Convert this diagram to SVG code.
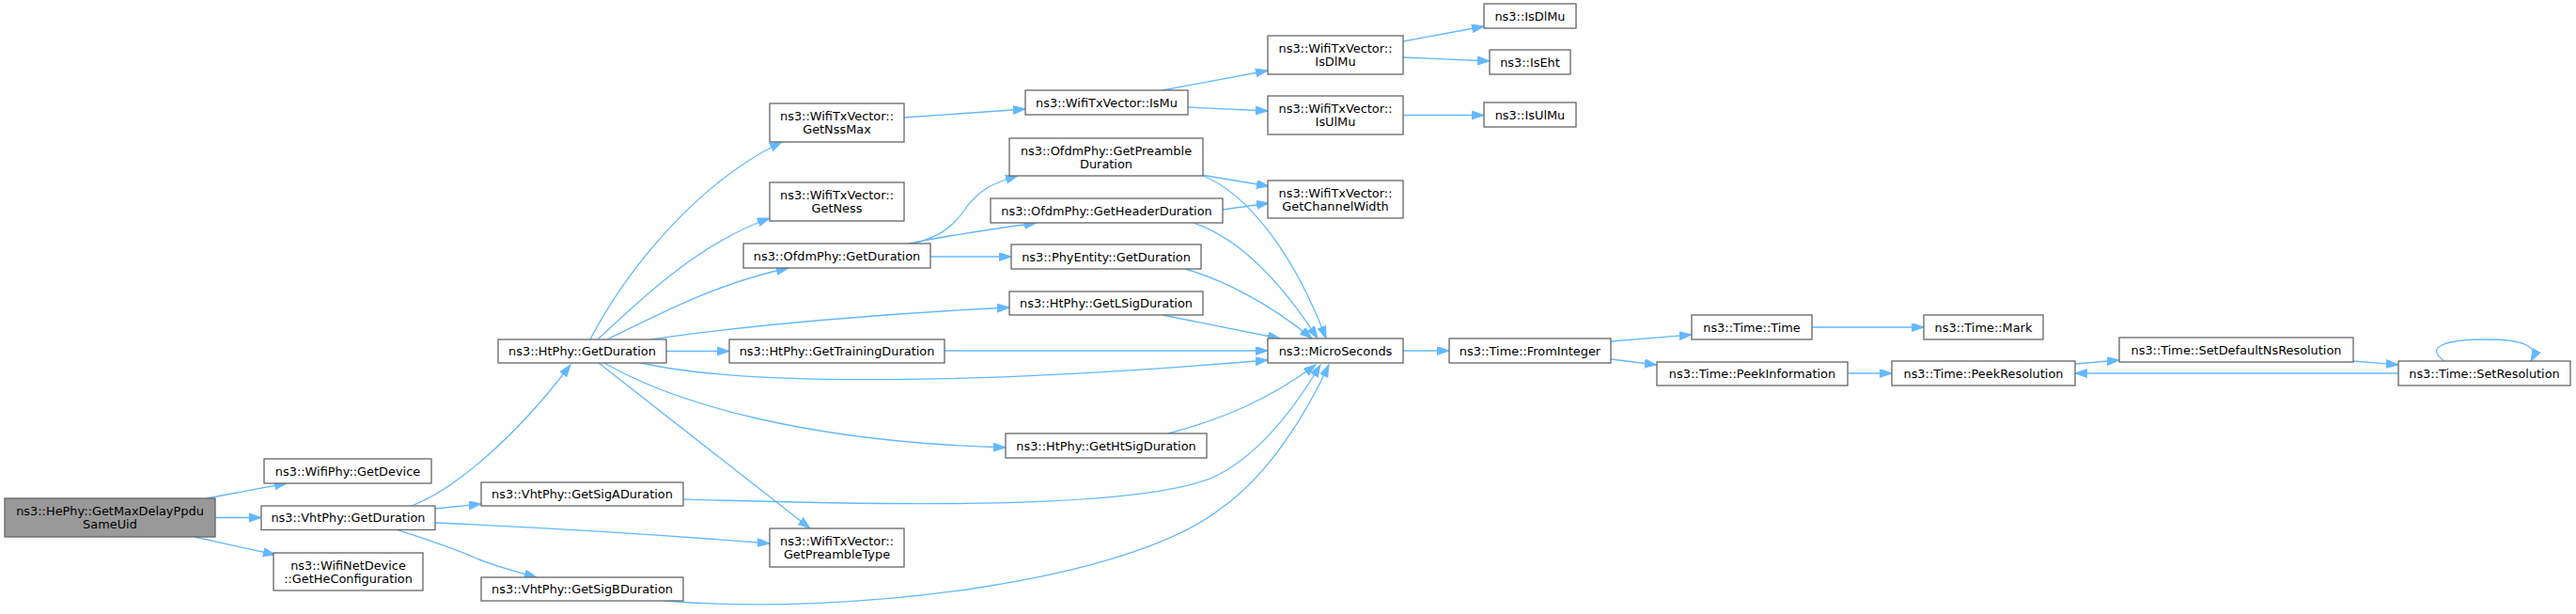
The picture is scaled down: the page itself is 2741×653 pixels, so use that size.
<svg xmlns="http://www.w3.org/2000/svg" width="2741" height="653" viewBox="0 0 2741 653">
<style>
.node rect{fill:#ffffff;stroke:#666666;stroke-width:1.3}
.node.root rect{fill:#999999}
.node text{font-family:"DejaVu Sans","Liberation Sans",sans-serif;font-size:12.9px;fill:#000000;text-anchor:middle}
.edges path{fill:none;stroke:#63b8ff;stroke-width:1.3;marker-end:url(#arr)}
</style>
<defs>
<marker id="arr" markerUnits="userSpaceOnUse" markerWidth="14" markerHeight="10" refX="13" refY="4.5" orient="auto" viewBox="0 0 14 10">
<path d="M0,0 L13,4.5 L0,9 Z" fill="#63b8ff" stroke="#63b8ff" stroke-width="1"/>
</marker>
</defs>
<rect x="0" y="0" width="2741" height="653" fill="#ffffff"/>
<g class="edges" id="edges">
<path d="M220,530 L305,514"/>
<path d="M229,550.5 L278,550.5"/>
<path d="M207,571 L293,590"/>
<path d="M438,538 C480,522 545,470 607,388"/>
<path d="M463,541 L512,536"/>
<path d="M463,556 C600,562 720,570 819,578"/>
<path d="M421,563 C455,574 480,582 505,593 C525,602 550,608 571,614"/>
<path d="M628,361 C665,290 740,195 832,151"/>
<path d="M636,361 C675,325 740,260 819,232"/>
<path d="M646,361 C700,335 760,302 839,285"/>
<path d="M693,361 C800,345 950,333 1074,327"/>
<path d="M709,373.5 L776,373.5"/>
<path d="M682,386 C800,412 1050,408 1349,383"/>
<path d="M643,386 C720,430 860,470 1070,476"/>
<path d="M637,386 L862,562"/>
<path d="M727,531 C900,536 1200,545 1290,508 C1340,485 1380,430 1405,388"/>
<path d="M707,639 C900,655 1200,620 1300,540 C1350,505 1390,440 1414,388"/>
<path d="M973,259 C1000,251 1013,242 1025,225 C1040,203 1055,195 1083,187"/>
<path d="M967,259 C1010,250 1060,243 1103,237"/>
<path d="M990,273 L1076,273"/>
<path d="M962,125 L1091,116"/>
<path d="M1237,96 L1349,75"/>
<path d="M1264,114 L1349,118"/>
<path d="M1493,44 L1579,28"/>
<path d="M1493,61 L1585,65"/>
<path d="M1493,122.5 L1579,122.5"/>
<path d="M1278,186 L1350,198"/>
<path d="M1280,187 C1325,205 1375,265 1411,360"/>
<path d="M1301,223 L1350,216"/>
<path d="M1270,237 C1315,252 1360,295 1402,360"/>
<path d="M1261,286 C1300,297 1350,322 1396,360"/>
<path d="M1237,335 L1362,360"/>
<path d="M1005,373 L1349,373"/>
<path d="M1243,461 C1300,446 1350,425 1400,388"/>
<path d="M1493,373 L1542,373"/>
<path d="M1714,363 L1800,356"/>
<path d="M1714,382 L1763,388"/>
<path d="M1928,348 L2047,348"/>
<path d="M1966,397 L2013,397"/>
<path d="M2208,387 L2255,383"/>
<path d="M2504,384 L2552,388"/>
<path d="M2552,397 L2208,397"/>
<path d="M2601,384 C2578,368 2605,361 2645,361 C2685,361 2702,368 2693,384"/>
</g>
<g class="node root" id="n_root"><rect x="5" y="530" width="224" height="41"/><text x="117" y="548">ns3::HePhy::GetMaxDelayPpdu</text><text x="117" y="562">SameUid</text></g>
<g class="node" id="n_getdevice"><rect x="281" y="488" width="178" height="26"/><text x="370" y="505.5">ns3::WifiPhy::GetDevice</text></g>
<g class="node" id="n_vhtdur"><rect x="278" y="538" width="185" height="25.5"/><text x="370.5" y="555">ns3::VhtPhy::GetDuration</text></g>
<g class="node" id="n_heconf"><rect x="291" y="588" width="159" height="40"/><text x="370.5" y="605.5">ns3::WifiNetDevice</text><text x="370.5" y="619.5">::GetHeConfiguration</text></g>
<g class="node" id="n_htdur"><rect x="530" y="361" width="179" height="25"/><text x="619.5" y="378">ns3::HtPhy::GetDuration</text></g>
<g class="node" id="n_siga"><rect x="512" y="513" width="215" height="25"/><text x="619.5" y="530">ns3::VhtPhy::GetSigADuration</text></g>
<g class="node" id="n_sigb"><rect x="512" y="614" width="215" height="25"/><text x="619.5" y="631">ns3::VhtPhy::GetSigBDuration</text></g>
<g class="node" id="n_nssmax"><rect x="819" y="110" width="143" height="41"/><text x="890.5" y="128">ns3::WifiTxVector::</text><text x="890.5" y="142">GetNssMax</text></g>
<g class="node" id="n_ness"><rect x="819" y="194" width="143" height="41"/><text x="890.5" y="212">ns3::WifiTxVector::</text><text x="890.5" y="226">GetNess</text></g>
<g class="node" id="n_ofdmdur"><rect x="791" y="259" width="199" height="26"/><text x="890.5" y="276.5">ns3::OfdmPhy::GetDuration</text></g>
<g class="node" id="n_training"><rect x="776" y="361" width="229" height="25"/><text x="890.5" y="378">ns3::HtPhy::GetTrainingDuration</text></g>
<g class="node" id="n_preambletype"><rect x="819" y="562" width="143" height="41"/><text x="890.5" y="580">ns3::WifiTxVector::</text><text x="890.5" y="594">GetPreambleType</text></g>
<g class="node" id="n_ismu"><rect x="1091" y="96" width="173" height="26"/><text x="1177.5" y="113.5">ns3::WifiTxVector::IsMu</text></g>
<g class="node" id="n_preambledur"><rect x="1074" y="147" width="206" height="40"/><text x="1177" y="164.5">ns3::OfdmPhy::GetPreamble</text><text x="1177" y="178.5">Duration</text></g>
<g class="node" id="n_headerdur"><rect x="1054" y="211" width="247" height="26"/><text x="1177.5" y="228.5">ns3::OfdmPhy::GetHeaderDuration</text></g>
<g class="node" id="n_phyentity"><rect x="1076" y="260" width="202" height="26"/><text x="1177" y="277.5">ns3::PhyEntity::GetDuration</text></g>
<g class="node" id="n_lsig"><rect x="1074" y="310" width="206" height="25"/><text x="1177" y="327">ns3::HtPhy::GetLSigDuration</text></g>
<g class="node" id="n_htsig"><rect x="1070" y="461" width="214" height="26"/><text x="1177" y="478.5">ns3::HtPhy::GetHtSigDuration</text></g>
<g class="node" id="n_wisdlmu"><rect x="1349" y="38" width="144" height="41"/><text x="1421" y="56">ns3::WifiTxVector::</text><text x="1421" y="70">IsDlMu</text></g>
<g class="node" id="n_wisulmu"><rect x="1349" y="102" width="144" height="41"/><text x="1421" y="120">ns3::WifiTxVector::</text><text x="1421" y="134">IsUlMu</text></g>
<g class="node" id="n_chwidth"><rect x="1349" y="192" width="144" height="40"/><text x="1421" y="209.5">ns3::WifiTxVector::</text><text x="1421" y="223.5">GetChannelWidth</text></g>
<g class="node" id="n_micro"><rect x="1349" y="360" width="144" height="26"/><text x="1421" y="377.5">ns3::MicroSeconds</text></g>
<g class="node" id="n_isdlmu"><rect x="1579" y="4" width="98" height="26"/><text x="1628" y="21.5">ns3::IsDlMu</text></g>
<g class="node" id="n_iseht"><rect x="1585" y="53" width="86" height="26"/><text x="1628" y="70.5">ns3::IsEht</text></g>
<g class="node" id="n_isulmu"><rect x="1579" y="109" width="98" height="26"/><text x="1628" y="126.5">ns3::IsUlMu</text></g>
<g class="node" id="n_frominteger"><rect x="1542" y="360" width="172" height="26"/><text x="1628" y="377.5">ns3::Time::FromInteger</text></g>
<g class="node" id="n_time"><rect x="1800" y="335" width="128" height="26"/><text x="1864" y="352.5">ns3::Time::Time</text></g>
<g class="node" id="n_peekinfo"><rect x="1763" y="385" width="203" height="25"/><text x="1864.5" y="402">ns3::Time::PeekInformation</text></g>
<g class="node" id="n_mark"><rect x="2047" y="335" width="127" height="26"/><text x="2110.5" y="352.5">ns3::Time::Mark</text></g>
<g class="node" id="n_peekres"><rect x="2013" y="384" width="195" height="26"/><text x="2110.5" y="401.5">ns3::Time::PeekResolution</text></g>
<g class="node" id="n_setdefault"><rect x="2255" y="359" width="249" height="26"/><text x="2379.5" y="376.5">ns3::Time::SetDefaultNsResolution</text></g>
<g class="node" id="n_setres"><rect x="2552" y="384" width="183" height="26"/><text x="2643.5" y="401.5">ns3::Time::SetResolution</text></g>
</svg>
